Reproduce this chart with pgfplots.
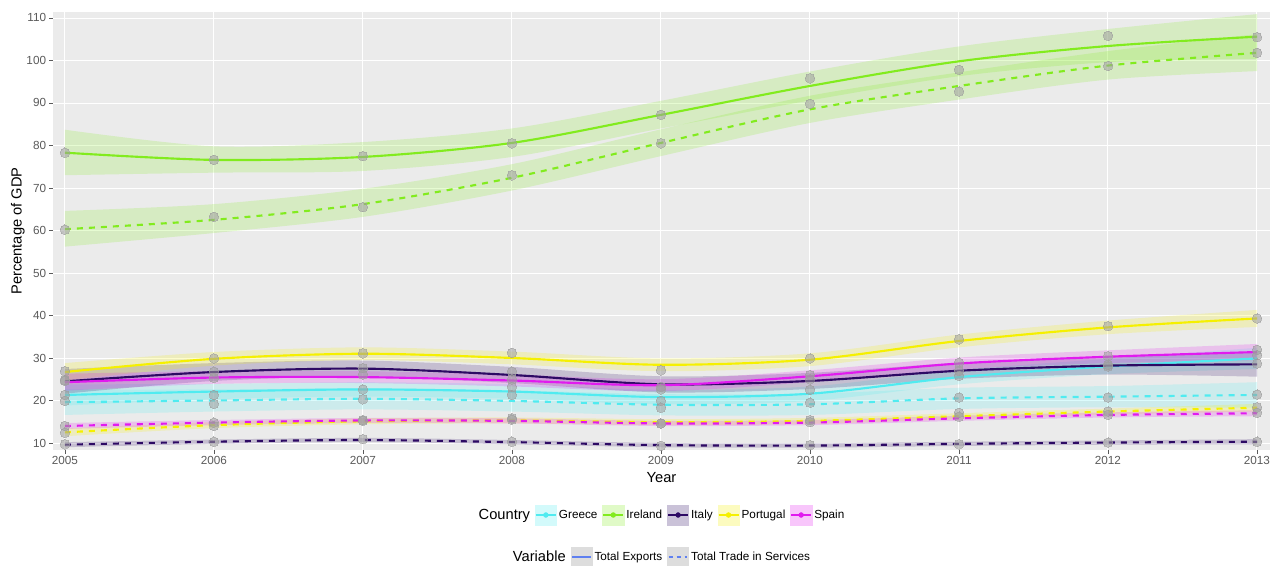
\documentclass[border=0pt]{standalone}
\usepackage{fontspec}
\setmainfont{Liberation Sans}
\usepackage{pgfplots}
\usepackage{pgfplotstable}
\pgfplotsset{compat=1.18}
\usepgfplotslibrary{fillbetween}

\definecolor{panel}{HTML}{EBEBEB}
\definecolor{tickgray}{HTML}{5A5A5A}
\definecolor{ptgray}{HTML}{9E9E9E}
\definecolor{cGreece}{RGB}{80,235,240}
\definecolor{cIreland}{RGB}{130,235,30}
\definecolor{cItaly}{RGB}{45,10,100}
\definecolor{cPortugal}{RGB}{245,240,0}
\definecolor{cSpain}{RGB}{225,27,239}
\definecolor{keygray}{HTML}{DDDDDD}
\definecolor{keyblue}{HTML}{5F80F0}

% columns: year, observed point, smoothed fit, ribbon low, ribbon high
\pgfplotstableread{
yr   pt    fit   lo    hi
2005 21.3  21.3  18.8  23.8
2006 21.3  22.1  20.3  23.9
2007 22.6  22.6  20.9  24.3
2008 23.2  22.1  20.4  23.8
2009 19.9  20.8  19.1  22.5
2010 22.5  21.6  19.9  23.3
2011 25.8  25.5  23.8  27.2
2012 28.0  28.0  26.2  29.8
2013 30.7  29.9  27.4  32.4
}\greeceE
\pgfplotstableread{
yr   pt    fit   lo    hi
2005 19.9  19.6  16.6  22.6
2006 19.2  20.0  17.4  22.6
2007 20.3  20.4  17.9  22.9
2008 21.3  19.9  17.4  22.4
2009 18.3  19.0  16.5  21.5
2010 19.5  19.1  16.6  21.6
2011 20.7  20.5  18.0  23.0
2012 20.7  20.9  18.4  23.4
2013 21.4  21.3  18.3  24.3
}\greeceS
\pgfplotstableread{
yr   pt    fit   lo    hi
2005 78.3  78.3  73.0  83.7
2006 76.6  76.6  73.6  79.8
2007 77.5  77.3  74.0  80.8
2008 80.5  80.6  77.3  84.0
2009 87.2  87.2  84.0  90.5
2010 95.8  94.0  90.6  97.4
2011 97.8  99.8  96.3  103.3
2012 105.8 103.4 99.6  107.4
2013 105.5 105.6 100.4 110.9
}\irelandE
\pgfplotstableread{
yr   pt    fit   lo    hi
2005 60.2  60.3  56.2  64.6
2006 63.2  62.5  59.4  66.2
2007 65.5  66.2  63.2  69.8
2008 73.0  72.4  69.4  75.6
2009 80.5  80.6  77.5  83.8
2010 89.8  88.5  85.3  91.7
2011 92.7  94.0  90.8  97.2
2012 98.7  98.8  95.5  102.2
2013 101.8 101.8 97.5  106.2
}\irelandS
\pgfplotstableread{
yr   pt    fit   lo    hi
2005 24.8  24.5  21.6  27.4
2006 26.8  26.7  24.6  28.8
2007 27.6  27.5  25.6  29.4
2008 26.8  26.0  24.1  27.9
2009 23.2  23.8  21.9  25.7
2010 25.0  24.6  22.7  26.5
2011 27.0  27.0  25.1  28.9
2012 28.4  28.2  26.1  30.3
2013 28.7  28.5  25.6  31.4
}\italyE
\pgfplotstableread{
yr   pt    fit   lo    hi
2005 9.7   9.6   9.0   10.2
2006 10.3  10.3  9.8   10.8
2007 10.9  10.7  10.2  11.2
2008 10.3  10.2  9.7   10.7
2009 9.3   9.5   9.0   10.0
2010 9.5   9.4   8.9   9.9
2011 9.7   9.8   9.3   10.3
2012 10.1  10.1  9.6   10.6
2013 10.3  10.3  9.7   10.9
}\italyS
\pgfplotstableread{
yr   pt    fit   lo    hi
2005 26.9  26.7  24.7  28.8
2006 29.9  29.8  28.2  31.4
2007 31.1  31.0  29.5  32.5
2008 31.2  30.0  28.5  31.5
2009 27.1  28.4  26.9  29.9
2010 29.9  29.6  28.1  31.1
2011 34.4  34.0  32.5  35.5
2012 37.5  37.2  35.6  38.8
2013 39.3  39.3  37.3  41.3
}\portugalE
\pgfplotstableread{
yr   pt    fit   lo    hi
2005 12.4  12.5  11.6  13.4
2006 14.0  14.2  13.5  14.9
2007 15.2  15.1  14.4  15.8
2008 15.5  15.3  14.6  16.0
2009 14.6  14.9  14.2  15.6
2010 15.4  15.2  14.5  15.9
2011 17.1  16.3  15.6  17.0
2012 17.4  17.4  16.7  18.1
2013 18.4  18.3  17.4  19.2
}\portugalS
\pgfplotstableread{
yr   pt    fit   lo    hi
2005 24.6  24.3  22.3  26.3
2006 25.3  25.4  23.9  26.9
2007 26.1  25.5  24.1  26.9
2008 25.0  24.7  23.3  26.1
2009 22.6  23.6  22.2  25.0
2010 26.0  25.7  24.3  27.1
2011 28.9  28.7  27.3  30.1
2012 30.4  30.3  28.8  31.8
2013 31.9  31.4  29.5  33.3
}\spainE
\pgfplotstableread{
yr   pt    fit   lo    hi
2005 14.0  14.0  13.3  14.7
2006 14.8  14.8  14.2  15.4
2007 15.4  15.3  14.7  15.9
2008 15.8  15.2  14.6  15.8
2009 14.6  14.6  14.0  15.2
2010 14.9  14.8  14.2  15.4
2011 16.2  15.8  15.2  16.4
2012 16.6  16.6  16.0  17.2
2013 17.1  17.0  16.3  17.7
}\spainS

\tikzset{svc/.style={dash pattern=on 4.5pt off 4.5pt}}

% ribbon + smoothed line for one series
\newcommand{\series}[4]{%
  \addplot[name path=#4lo, draw=none, smooth, forget plot] table[x=yr, y=lo] {#1};
  \addplot[name path=#4hi, draw=none, smooth, forget plot] table[x=yr, y=hi] {#1};
  \addplot[fill=#2, fill opacity=0.2, draw=none, forget plot] fill between[of=#4lo and #4hi];
  \addplot[#2, line width=1.6pt, smooth, #3, forget plot] table[x=yr, y=fit] {#1};
}
\newcommand{\points}[1]{%
  \addplot[only marks, mark=*, mark size=3.6pt, color=ptgray, opacity=0.55,
    mark options={draw=ptgray, fill=ptgray, line width=0pt}, forget plot] table[x=yr, y=pt] {#1};
}

\pgfplotsset{
  ckey/.style={legend image code/.code={
    \fill[#1!25!white] (0pt,-7.5pt) rectangle (16pt,7.5pt);
    \draw[#1, line width=1.5pt] (0.5pt,0pt) -- (15.5pt,0pt);
    \fill[#1] (8pt,0pt) circle (1.8pt);}},
  vkey/.style={legend image code/.code={
    \fill[keygray] (0pt,-7.5pt) rectangle (16pt,7.5pt);
    \draw[keyblue, line width=1.5pt, #1] (1pt,0pt) -- (15pt,0pt);}},
  keylegend/.style={
    legend style={draw=none, fill=none, inner sep=0pt, at={(axis description cs:0.5,#1)}, anchor=center,
      font=\fontsize{8.8}{10}\selectfont, nodes={inner sep=1.6pt},
      /tikz/every even column/.append style={column sep=2pt}},
    legend cell align=left}
}

\begin{document}
\begin{tikzpicture}
\begin{axis}[
  at={(0,0)}, anchor=south west,
  scale only axis, width=912.75pt, height=328.5pt,
  xmin=2004.92, xmax=2013.087, ymin=8.35, ymax=111.4,
  axis lines*=left, axis line style={draw=none},
  axis background/.style={fill=panel},
  grid=major, major grid style={white, line width=0.65pt},
  xtick={2005,...,2013}, ytick={10,20,...,110},
  tick align=outside, major tick length=3pt,
  tick style={tickgray, line width=0.6pt},
  /pgf/number format/1000 sep={}, /pgf/number format/assume math mode=true,
  tick label style={font=\fontsize{8.8}{10}\selectfont, text=tickgray},
  xticklabel style={inner sep=1.5pt},
  yticklabel style={inner sep=2pt},
  xlabel={Year}, ylabel={Percentage of GDP},
  label style={font=\fontsize{11}{13}\selectfont},
  xlabel style={at={(axis description cs:0.5,-0.0639)}, anchor=center},
  ylabel style={at={(axis description cs:-0.0288,0.5)}, anchor=center},
  keylegend=-0.1484, legend columns=6,
]
\addlegendimage{empty legend}\addlegendentry{\fontsize{11}{13}\selectfont Country}
\addlegendimage{ckey=cGreece}\addlegendentry{Greece}
\addlegendimage{ckey=cIreland}\addlegendentry{Ireland}
\addlegendimage{ckey=cItaly}\addlegendentry{Italy}
\addlegendimage{ckey=cPortugal}\addlegendentry{Portugal}
\addlegendimage{ckey=cSpain}\addlegendentry{Spain}

\series{\greeceE}{cGreece}{solid}{ge}
\series{\greeceS}{cGreece}{svc}{gs}
\series{\irelandE}{cIreland}{solid}{ie}
\series{\irelandS}{cIreland}{svc}{is}
\series{\italyE}{cItaly}{solid}{ite}
\series{\italyS}{cItaly}{svc}{its}
\series{\portugalE}{cPortugal}{solid}{pe}
\series{\portugalS}{cPortugal}{svc}{ps}
\series{\spainE}{cSpain}{solid}{se}
\series{\spainS}{cSpain}{svc}{ss}

\points{\greeceE}\points{\greeceS}
\points{\irelandE}\points{\irelandS}
\points{\italyE}\points{\italyS}
\points{\portugalE}\points{\portugalS}
\points{\spainE}\points{\spainS}
\end{axis}

\begin{axis}[
  at={(0,0)}, anchor=south west,
  scale only axis, width=912.75pt, height=328.5pt,
  xmin=0, xmax=1, ymin=0, ymax=1, hide axis,
  keylegend=-0.2443, legend columns=3,
]
\addplot[draw=none, forget plot] coordinates {(0,0)};
\addlegendimage{empty legend}\addlegendentry{\fontsize{11}{13}\selectfont Variable}
\addlegendimage{vkey=solid}\addlegendentry{Total Exports}
\addlegendimage{vkey={dash pattern=on 3pt off 3pt}}\addlegendentry{Total Trade in Services}
\end{axis}
\pgfresetboundingbox
\path[use as bounding box] (-39.75pt,-86.25pt) rectangle (918pt,337.5pt);
\end{tikzpicture}
\end{document}
